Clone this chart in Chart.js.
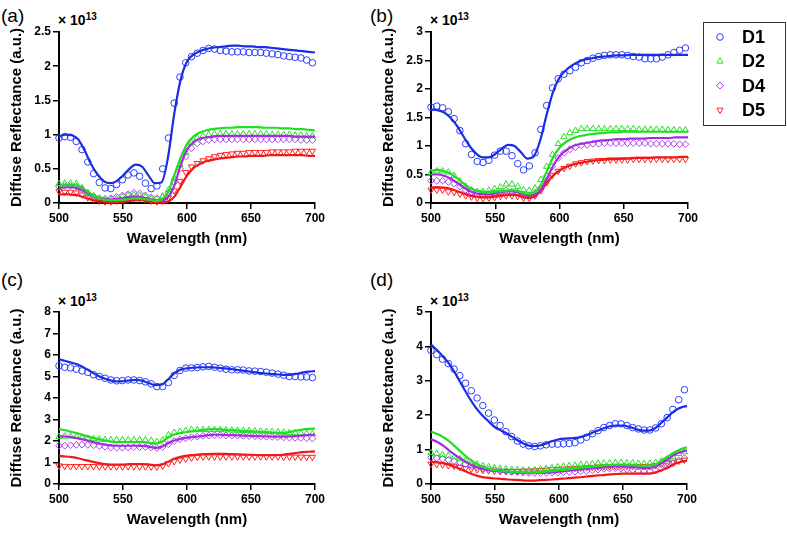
<!DOCTYPE html>
<html>
<head>
<meta charset="utf-8">
<script src="https://cdn.jsdelivr.net/npm/chart.js@4.4.0/dist/chart.umd.min.js"></script>
<style>
    body { margin: 0; background: #fff; width: 787px; height: 533px; position: relative; overflow: hidden;
           font-family: "Liberation Sans", Arial, sans-serif; }
    canvas { position: absolute; }
    .tag { position: absolute; font-size: 19px; line-height: 20px; color: #000; }
    .exp { position: absolute; font-size: 14px; font-weight: bold; line-height: 14px; color: #000; }
    .exp sup { font-size: 10px; vertical-align: 5px; line-height: 0; }
</style>
</head>
<body>
<div class="tag" style="left:1px; top:6px;">(a)</div>
<div class="tag" style="left:370px; top:6px;">(b)</div>
<div class="tag" style="left:1px; top:270px;">(c)</div>
<div class="tag" style="left:370px; top:270px;">(d)</div>

<div class="exp" style="left:58px; top:13px;">× 10<sup>13</sup></div>
<div class="exp" style="left:430px; top:13px;">× 10<sup>13</sup></div>
<div class="exp" style="left:58px; top:294px;">× 10<sup>13</sup></div>
<div class="exp" style="left:430px; top:294px;">× 10<sup>13</sup></div>

<canvas id="chartA" width="330" height="253" style="left:0; top:0;"></canvas>
<canvas id="chartB" width="415" height="253" style="left:372px; top:0;"></canvas>
<canvas id="chartC" width="330" height="274" style="left:0; top:260px;"></canvas>
<canvas id="chartD" width="330" height="274" style="left:372px; top:260px;"></canvas>

<script>
// Wavelengths (nm)
const lineX = [500,505,510,515,520,525,530,535,540,545,550,555,560,565,570,575,580,585,590,595,
               600,605,610,615,620,625,630,635,640,645,650,655,660,665,670,675,680,685,690,695,700];
const markX = [500,504.5,509,513.5,518,522.5,527,531.5,536,540.5,545,549.5,554,558.5,563,567.5,572,576.5,581,585.5,
               590,594.5,599,603.5,608,612.5,617,621.5,626,630.5,635,639.5,644,648.5,653,657.5,662,666.5,671,675.5,
               680,684.5,689,693.5,698];

const seriesNames = ['D1', 'D2', 'D4', 'D5'];

// Panel (a), values x 10^13
const aD1Line = [0.97,1.00,0.99,0.93,0.77,0.57,0.42,0.32,0.29,0.32, 0.40,0.50,0.56,0.53,0.40,0.29,0.30,0.65,1.30,1.80,
                 2.07,2.17,2.22,2.25,2.27,2.28,2.29,2.30,2.30,2.29, 2.29,2.28,2.28,2.27,2.26,2.25,2.24,2.23,2.22,2.21, 2.20];
const aD2Line = [0.25,0.26,0.26,0.25,0.20,0.13,0.08,0.05,0.04,0.04, 0.05,0.06,0.07,0.06,0.05,0.03,0.05,0.15,0.40,0.66,
                 0.86,0.97,1.03,1.06,1.08,1.09,1.10,1.10,1.11,1.11, 1.11,1.11,1.10,1.10,1.10,1.09,1.09,1.08,1.08,1.07, 1.06];
const aD4Line = [0.22,0.23,0.23,0.21,0.17,0.12,0.08,0.06,0.05,0.06, 0.07,0.09,0.09,0.08,0.06,0.04,0.04,0.08,0.25,0.55,
                 0.78,0.89,0.94,0.96,0.97,0.98,0.98,0.98,0.98,0.98, 0.98,0.98,0.98,0.98,0.98,0.98,0.98,0.97,0.97,0.97, 0.97];
const aD5Line = [0.12,0.13,0.12,0.11,0.08,0.05,0.03,0.02,0.01,0.01, 0.02,0.03,0.04,0.04,0.02,0.01,0.01,0.02,0.09,0.24,
                 0.40,0.51,0.57,0.61,0.63,0.65,0.66,0.67,0.68,0.68, 0.69,0.69,0.69,0.70,0.70,0.70,0.70,0.70,0.70,0.69, 0.69];
const aD1Marks = [0.95,0.97,0.96,0.90,0.78,0.60,0.43,0.30,0.22,0.21, 0.27,0.34,0.41,0.44,0.39,0.29,0.21,0.25,0.50,0.95,
                  1.46,1.84,2.05,2.14,2.19,2.23,2.26,2.25,2.23,2.22, 2.21,2.21,2.21,2.20,2.20,2.20,2.19,2.18,2.17,2.15,
                  2.14,2.13,2.12,2.09,2.05];
const aD2Marks = [0.28,0.29,0.29,0.28,0.22,0.15,0.10,0.06,0.05,0.05, 0.06,0.09,0.11,0.12,0.11,0.09,0.06,0.06,0.10,0.19,
                  0.36,0.56,0.74,0.88,0.95,0.98,1.00,1.01,1.01,1.01, 1.01,1.01,1.01,1.01,1.01,1.01,1.01,1.00,1.00,1.00,
                  1.00,0.99,0.99,0.98,0.98];
const aD4Marks = [0.24,0.25,0.25,0.24,0.20,0.14,0.10,0.07,0.06,0.07, 0.09,0.11,0.13,0.15,0.14,0.11,0.08,0.07,0.08,0.15,
                  0.30,0.50,0.68,0.80,0.87,0.90,0.92,0.93,0.93,0.93, 0.93,0.93,0.93,0.93,0.93,0.93,0.93,0.93,0.93,0.93,
                  0.93,0.93,0.92,0.92,0.92];
const aD5Marks = [0.17,0.16,0.16,0.15,0.12,0.08,0.05,0.03,0.02,0.02, 0.03,0.05,0.06,0.07,0.07,0.05,0.03,0.02,0.03,0.08,
                  0.18,0.32,0.45,0.53,0.58,0.62,0.65,0.68,0.70,0.71, 0.72,0.73,0.73,0.74,0.74,0.74,0.74,0.75,0.75,0.75,
                  0.75,0.76,0.76,0.76,0.76];

// Panel (b)
const bD1Line = [1.64,1.63,1.59,1.50,1.36,1.18,1.00,0.87,0.80,0.80, 0.86,0.95,1.02,1.00,0.89,0.78,0.82,1.10,1.55,1.95,
                 2.20,2.33,2.42,2.48,2.52,2.54,2.56,2.57,2.58,2.59, 2.59,2.60,2.60,2.60,2.60,2.60,2.60,2.60,2.60,2.60, 2.60];
const bD2Line = [0.57,0.58,0.56,0.52,0.44,0.35,0.27,0.22,0.20,0.19, 0.20,0.21,0.22,0.22,0.19,0.16,0.18,0.30,0.55,0.80,
                 0.97,1.07,1.13,1.17,1.19,1.21,1.22,1.23,1.24,1.24, 1.25,1.25,1.25,1.25,1.25,1.25,1.25,1.25,1.25,1.25, 1.25];
const bD4Line = [0.50,0.50,0.48,0.43,0.36,0.28,0.21,0.17,0.15,0.15, 0.17,0.19,0.21,0.20,0.17,0.13,0.14,0.22,0.42,0.65,
                 0.82,0.92,0.99,1.03,1.05,1.07,1.09,1.10,1.11,1.12, 1.12,1.13,1.13,1.13,1.14,1.14,1.14,1.14,1.15,1.15, 1.15];
const bD5Line = [0.27,0.28,0.27,0.25,0.21,0.17,0.13,0.11,0.10,0.10, 0.11,0.13,0.14,0.14,0.12,0.09,0.11,0.20,0.35,0.48,
                 0.57,0.63,0.67,0.70,0.72,0.74,0.75,0.76,0.77,0.77, 0.78,0.78,0.79,0.79,0.79,0.80,0.80,0.80,0.80,0.81, 0.81];
const bD1Marks = [1.68,1.70,1.67,1.60,1.48,1.27,1.04,0.85,0.73,0.71, 0.75,0.84,0.91,0.91,0.83,0.69,0.58,0.65,0.88,1.29,
                  1.71,2.02,2.18,2.26,2.32,2.38,2.46,2.50,2.54,2.57, 2.59,2.60,2.60,2.60,2.59,2.57,2.56,2.53,2.53,2.53,
                  2.56,2.60,2.64,2.68,2.72];
const bD2Marks = [0.53,0.56,0.56,0.54,0.48,0.38,0.29,0.23,0.20,0.20, 0.22,0.25,0.28,0.33,0.33,0.29,0.23,0.22,0.26,0.41,
                  0.64,0.85,1.04,1.16,1.23,1.27,1.30,1.30,1.30,1.30, 1.30,1.30,1.30,1.30,1.30,1.30,1.29,1.29,1.29,1.29,
                  1.29,1.28,1.28,1.28,1.28];
const bD4Marks = [0.39,0.39,0.39,0.37,0.34,0.29,0.23,0.19,0.16,0.15, 0.16,0.18,0.20,0.22,0.20,0.18,0.13,0.13,0.16,0.26,
                  0.47,0.64,0.79,0.88,0.94,0.98,1.01,1.02,1.04,1.04, 1.05,1.05,1.05,1.05,1.05,1.05,1.05,1.05,1.04,1.04,
                  1.04,1.04,1.04,1.03,1.03];
const bD5Marks = [0.23,0.23,0.23,0.20,0.19,0.16,0.13,0.11,0.09,0.08, 0.09,0.10,0.12,0.13,0.13,0.12,0.09,0.09,0.13,0.22,
                  0.36,0.49,0.56,0.61,0.65,0.69,0.71,0.73,0.74,0.75, 0.75,0.76,0.76,0.76,0.76,0.77,0.77,0.77,0.77,0.77,
                  0.77,0.77,0.77,0.77,0.77];

// Panel (c)
const cD1Line = [5.80,5.72,5.64,5.55,5.40,5.22,5.05,4.92,4.82,4.77, 4.78,4.82,4.84,4.80,4.70,4.60,4.62,4.85,5.15,5.32,
                 5.38,5.41,5.43,5.43,5.42,5.40,5.38,5.34,5.30,5.26, 5.22,5.18,5.15,5.12,5.10,5.08,5.08,5.12,5.18,5.23, 5.25];
const cD2Line = [2.55,2.50,2.42,2.35,2.25,2.17,2.10,2.03,1.98,1.95, 1.95,1.95,1.95,1.95,1.92,1.88,1.95,2.15,2.30,2.37,
                 2.42,2.46,2.50,2.53,2.55,2.54,2.52,2.50,2.48,2.46, 2.45,2.43,2.42,2.40,2.38,2.38,2.42,2.48,2.53,2.56, 2.58];
const cD4Line = [2.22,2.21,2.18,2.12,2.05,1.97,1.90,1.84,1.80,1.78, 1.78,1.78,1.78,1.77,1.74,1.68,1.72,1.88,2.02,2.10,
                 2.15,2.19,2.22,2.26,2.29,2.29,2.28,2.27,2.26,2.25, 2.24,2.23,2.22,2.21,2.20,2.20,2.21,2.23,2.26,2.28, 2.30];
const cD5Line = [1.30,1.28,1.25,1.20,1.12,1.05,0.98,0.93,0.90,0.90, 0.90,0.92,0.93,0.93,0.91,0.87,0.90,1.03,1.17,1.26,
                 1.32,1.35,1.38,1.39,1.40,1.40,1.40,1.39,1.38,1.37, 1.36,1.35,1.34,1.34,1.34,1.36,1.40,1.44,1.48,1.50, 1.52];
const cD1Marks = [5.50,5.43,5.40,5.34,5.26,5.19,5.08,5.00,4.92,4.84, 4.80,4.81,4.84,4.84,4.81,4.75,4.66,4.53,4.53,4.72,
                  5.05,5.28,5.39,5.40,5.42,5.45,5.47,5.43,5.39,5.34, 5.31,5.31,5.30,5.26,5.25,5.23,5.20,5.16,5.11,5.06,
                  5.00,5.00,4.98,4.98,4.95];
const cD2Marks = [2.20,2.22,2.22,2.20,2.17,2.13,2.10,2.08,2.06,2.05, 2.05,2.05,2.05,2.05,2.05,2.04,2.02,1.97,2.05,2.28,
                  2.39,2.44,2.48,2.52,2.52,2.52,2.52,2.52,2.52,2.51, 2.50,2.49,2.48,2.47,2.46,2.45,2.44,2.43,2.42,2.40,
                  2.38,2.37,2.36,2.35,2.33];
const cD4Marks = [1.78,1.78,1.80,1.82,1.83,1.82,1.80,1.76,1.73,1.70, 1.69,1.69,1.70,1.72,1.72,1.72,1.70,1.68,1.72,1.85,
                  2.00,2.08,2.13,2.17,2.20,2.24,2.26,2.27,2.27,2.26, 2.25,2.25,2.24,2.23,2.22,2.21,2.20,2.19,2.18,2.17,
                  2.16,2.15,2.14,2.13,2.12];
const cD5Marks = [0.85,0.83,0.82,0.82,0.82,0.82,0.82,0.81,0.81,0.81, 0.81,0.81,0.81,0.81,0.81,0.81,0.80,0.80,0.84,0.95,
                  1.05,1.12,1.17,1.22,1.25,1.27,1.27,1.27,1.27,1.27, 1.27,1.27,1.27,1.27,1.27,1.27,1.27,1.27,1.27,1.26,
                  1.26,1.26,1.26,1.25,1.25];

// Panel (d)
const dD1Line = [4.05,3.88,3.68,3.45,3.15,2.82,2.50,2.22,2.00,1.82, 1.65,1.55,1.45,1.33,1.22,1.13,1.10,1.12,1.18,1.25,
                 1.30,1.32,1.33,1.35,1.40,1.47,1.55,1.62,1.68,1.70, 1.70,1.66,1.60,1.55,1.55,1.62,1.78,1.95,2.12,2.22, 2.27];
const dD2Line = [1.52,1.45,1.35,1.22,1.05,0.88,0.72,0.60,0.50,0.44, 0.40,0.38,0.36,0.35,0.34,0.33,0.33,0.34,0.36,0.38,
                 0.40,0.42,0.44,0.46,0.48,0.50,0.52,0.54,0.55,0.56, 0.56,0.55,0.54,0.53,0.53,0.56,0.68,0.80,0.92,1.01, 1.07];
const dD4Line = [1.30,1.22,1.10,0.95,0.82,0.70,0.58,0.50,0.44,0.40, 0.38,0.36,0.35,0.34,0.33,0.32,0.32,0.32,0.33,0.34,
                 0.36,0.38,0.40,0.42,0.44,0.46,0.47,0.49,0.50,0.51, 0.51,0.50,0.49,0.47,0.47,0.50,0.60,0.72,0.85,0.93, 0.98];
const dD5Line = [0.65,0.63,0.60,0.55,0.48,0.40,0.32,0.25,0.20,0.18, 0.16,0.15,0.13,0.12,0.11,0.10,0.10,0.11,0.12,0.13,
                 0.15,0.16,0.18,0.19,0.21,0.23,0.25,0.26,0.28,0.29, 0.30,0.30,0.30,0.30,0.30,0.33,0.40,0.48,0.58,0.64, 0.68];
const dD1Marks = [3.88,3.76,3.63,3.50,3.34,3.15,2.93,2.71,2.50,2.28, 2.06,1.86,1.70,1.52,1.38,1.25,1.16,1.11,1.09,1.11,
                  1.14,1.16,1.16,1.17,1.18,1.20,1.28,1.36,1.46,1.55, 1.64,1.70,1.75,1.75,1.70,1.64,1.60,1.57,1.57,1.63,
                  1.75,1.93,2.17,2.45,2.74];
const dD2Marks = [0.91,0.88,0.85,0.82,0.78,0.73,0.68,0.62,0.57,0.53, 0.50,0.47,0.45,0.43,0.42,0.41,0.40,0.40,0.41,0.43,
                  0.45,0.47,0.49,0.51,0.53,0.54,0.56,0.57,0.58,0.60, 0.60,0.61,0.62,0.62,0.61,0.61,0.60,0.59,0.60,0.62,
                  0.66,0.72,0.80,0.88,0.93];
const dD4Marks = [0.77,0.75,0.73,0.70,0.67,0.63,0.58,0.53,0.49,0.45, 0.42,0.40,0.38,0.36,0.35,0.34,0.33,0.32,0.32,0.32,
                  0.32,0.33,0.33,0.34,0.35,0.36,0.37,0.38,0.40,0.42, 0.44,0.45,0.46,0.45,0.43,0.41,0.38,0.37,0.37,0.40,
                  0.45,0.52,0.60,0.68,0.75];
const dD5Marks = [0.58,0.57,0.56,0.54,0.52,0.49,0.46,0.44,0.42,0.40, 0.39,0.38,0.37,0.37,0.37,0.37,0.38,0.38,0.39,0.40,
                  0.41,0.42,0.43,0.44,0.45,0.46,0.47,0.48,0.49,0.50, 0.51,0.51,0.52,0.52,0.52,0.52,0.51,0.51,0.52,0.54,
                  0.57,0.61,0.64,0.67,0.70];

// Styles
const fontFamily = '"Liberation Sans", Arial, sans-serif';
const lineColors = ['#1a2de0', '#22dd22', '#a22ee0', '#f01818'];
const markColors = ['#2a3cff', '#22e022', '#b040f0', '#ff2020'];
const markStyles = [
    { pointStyle: 'circle', rotation: 0, radius: 3.3 },
    { pointStyle: 'triangle', rotation: 0, radius: 3.6 },
    { pointStyle: 'rectRot', rotation: 0, radius: 3.4 },
    { pointStyle: 'triangle', rotation: 180, radius: 3.6 }
];

let charts = {};

function toPoints(xs, ys) {
    return xs.map((x, i) => ({ x: x, y: ys[i] }));
}

function buildDatasets(lines, marks) {
    const sets = [];
    lines.forEach((vals, i) => {
        sets.push({
            label: seriesNames[i] + ' fit',
            data: toPoints(lineX, vals),
            showLine: true,
            borderColor: lineColors[i],
            borderWidth: 2.2,
            pointRadius: 0,
            fill: false,
            cubicInterpolationMode: 'monotone',
            clip: false,
            order: 1
        });
    });
    marks.forEach((vals, i) => {
        sets.push({
            label: seriesNames[i],
            data: toPoints(markX, vals),
            showLine: false,
            borderColor: markColors[i],
            backgroundColor: 'rgba(0,0,0,0)',
            borderWidth: 1,
            pointStyle: markStyles[i].pointStyle,
            rotation: markStyles[i].rotation,
            pointRadius: markStyles[i].radius,
            clip: false,
            order: 2
        });
    });
    return sets;
}

// Legend box drawn next to panel (b)
const legendBox = {
    id: 'legendBox',
    afterDraw(chart, args, opts) {
        if (!opts.show) return;
        const ctx = chart.ctx;
        ctx.save();
        ctx.strokeStyle = '#333';
        ctx.lineWidth = 1;
        ctx.strokeRect(opts.x + 0.5, opts.y + 0.5, opts.w, opts.h);
        seriesNames.forEach((name, i) => {
            const cy = opts.y + 15 + i * 24.3;
            ctx.strokeStyle = markColors[i];
            ctx.fillStyle = 'rgba(0,0,0,0)';
            ctx.lineWidth = 1;
            Chart.helpers.drawPoint(ctx, {
                pointStyle: markStyles[i].pointStyle,
                rotation: markStyles[i].rotation,
                radius: markStyles[i].radius,
                borderWidth: 1
            }, opts.x + 17, cy);
            ctx.fillStyle = '#000';
            ctx.font = 'bold 18px ' + fontFamily;
            ctx.textBaseline = 'middle';
            ctx.textAlign = 'left';
            ctx.fillText(name, opts.x + 39, cy + 1);
        });
        ctx.restore();
    }
};

function axisBase() {
    return {
        grid: { display: true, drawOnChartArea: false, drawTicks: true, tickLength: 6, color: '#000', lineWidth: 1.5 },
        border: { display: true, color: '#000', width: 2 }
    };
}

function initPanel(id, yMax, yStep, lines, marks, padTop, padRight, legend) {
    const ctx = document.getElementById(id);
    if (!ctx) return;

    charts[id] = new Chart(ctx, {
        type: 'scatter',
        data: { datasets: buildDatasets(lines, marks) },
        options: {
            responsive: false,
            animation: false,
            events: [],
            layout: { padding: { left: 0, right: padRight, top: padTop, bottom: 0 } },
            plugins: {
                legend: { display: false },
                tooltip: { enabled: false },
                legendBox: legend || { show: false }
            },
            scales: {
                x: {
                    ...axisBase(),
                    type: 'linear',
                    min: 500,
                    max: 700,
                    ticks: { stepSize: 50, autoSkip: false, maxRotation: 0, padding: 2, color: '#000',
                             font: { family: fontFamily, size: 12, weight: 'bold' } },
                    title: { display: true, text: 'Wavelength (nm)', color: '#000', padding: { top: 0, bottom: 5 },
                             font: { family: fontFamily, size: 15, weight: 'bold' } },
                    afterFit: s => { s.height = 50; }
                },
                y: {
                    ...axisBase(),
                    type: 'linear',
                    min: 0,
                    max: yMax,
                    ticks: { stepSize: yStep, autoSkip: false, padding: 2, color: '#000',
                             font: { family: fontFamily, size: 12, weight: 'bold' },
                             callback: v => String(v) },
                    title: { display: true, text: 'Diffuse Reflectance (a.u.)', color: '#000', padding: { top: 8, bottom: 0 },
                             font: { family: fontFamily, size: 15, weight: 'bold' } },
                    afterFit: s => { s.width = 59; }
                }
            }
        },
        plugins: [legendBox]
    });
}

function initCharts() {
    initPanel('chartA', 2.5, 0.5, [aD1Line, aD2Line, aD4Line, aD5Line], [aD1Marks, aD2Marks, aD4Marks, aD5Marks], 32, 15);
    initPanel('chartB', 3, 0.5, [bD1Line, bD2Line, bD4Line, bD5Line], [bD1Marks, bD2Marks, bD4Marks, bD5Marks], 32, 99,
              { show: true, x: 331, y: 22, w: 82, h: 103 });
    initPanel('chartC', 8, 1, [cD1Line, cD2Line, cD4Line, cD5Line], [cD1Marks, cD2Marks, cD4Marks, cD5Marks], 52, 15);
    initPanel('chartD', 5, 1, [dD1Line, dD2Line, dD4Line, dD5Line], [dD1Marks, dD2Marks, dD4Marks, dD5Marks], 52, 15);
}

initCharts();
</script>
</body>
</html>
